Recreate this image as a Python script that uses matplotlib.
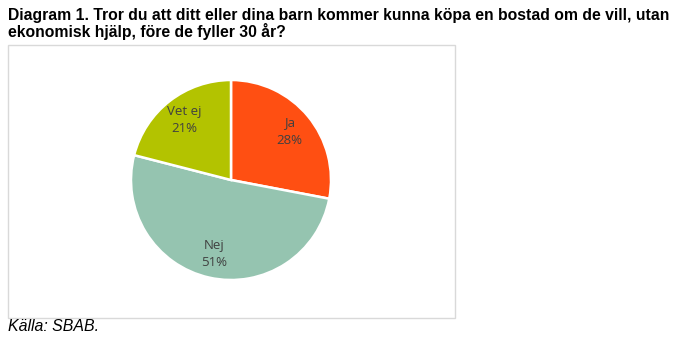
import matplotlib.pyplot as plt
from matplotlib.patches import Rectangle

# data
labels = ["Ja", "Nej", "Vet ej"]
shares = [28, 51, 21]
colors = ["#FF4F12", "#95C4B0", "#B3C300"]

W, H = 679, 357
fig = plt.figure(figsize=(W / 100, H / 100), dpi=100)

# chart frame (behind the pie)
fig.patches.append(Rectangle((8 / W, (H - 318) / H), 447 / W, 273 / H,
                             transform=fig.transFigure, facecolor="white",
                             edgecolor="#d9d9d9", linewidth=1, zorder=-1))

fig.text(8 / W, 1 - 8 / H,
         "Diagram 1. Tror du att ditt eller dina barn kommer kunna köpa en bostad om de vill, utan\n"
         "ekonomisk hjälp, före de fyller 30 år?",
         ha="left", va="top", fontsize=11.35, fontweight="bold",
         family="Liberation Sans", linespacing=1.0)

fig.text(8 / W, 1 - 319 / H, "Källa: SBAB.", ha="left", va="top",
         fontsize=11.4, style="italic", family="Liberation Sans")

# pie, centre at (231, 180) px, radius 100 px
ax = fig.add_axes([131 / W, (H - 280) / H, 200 / W, 200 / H])
wedges, texts = ax.pie(shares, colors=colors, startangle=90, counterclock=False,
                       labels=[f"{l}\n{s}%" for l, s in zip(labels, shares)],
                       labeldistance=0.76,
                       wedgeprops=dict(edgecolor="white", linewidth=1.8))
for t in texts:
    t.set_ha("center")
    t.set_va("center")
    t.set_fontsize(9.5)
    t.set_color("#404040")
    t.set_family("Open Sans")
    t.set_linespacing(1.4)
ax.set_xlim(-1, 1)
ax.set_ylim(-1, 1)
ax.set_aspect("equal")

fig.savefig("out.png", dpi=100)
